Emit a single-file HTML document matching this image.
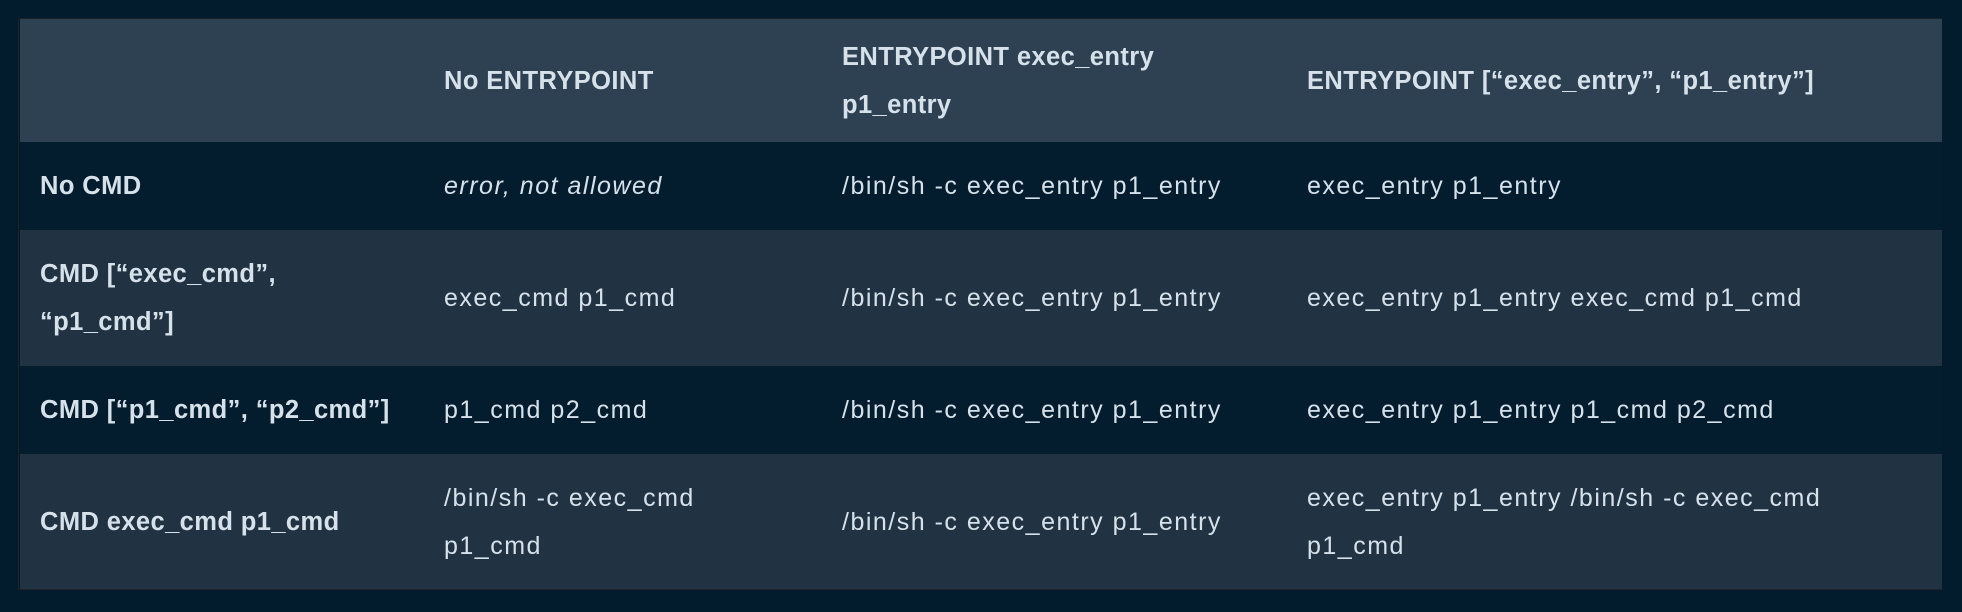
<!DOCTYPE html>
<html><head><meta charset="utf-8"><style>
html,body{margin:0;padding:0;width:1962px;height:612px;background:#031c2d;overflow:hidden}
#t{position:absolute;left:18px;top:18px;width:1924px;height:572px;border:1px solid #1c2226;box-sizing:border-box}
.r{position:absolute;left:1px;width:1922px}
.c{position:absolute;top:0;bottom:0;display:flex;align-items:center;color:#d6e1ea;font-family:"Liberation Sans",sans-serif;font-size:25px;letter-spacing:1.5px;line-height:48px}
.b{font-weight:bold;letter-spacing:0.4px;font-size:25.5px}
.c1{left:20px;width:380px}.c2{left:424px;width:380px}.c3{left:822px;width:430px}.c4{left:1287px;width:600px}
</style></head><body>
<div id="t">
<div class="r" style="top:0;height:123px;background:#2d4153">
<div class="c b c2">No ENTRYPOINT</div>
<div class="c b c3" style="width:340px">ENTRYPOINT exec_entry p1_entry</div>
<div class="c b c4">ENTRYPOINT [“exec_entry”, “p1_entry”]</div>
</div>
<div class="r" style="top:123px;height:88px;background:#031d2f">
<div class="c b c1">No CMD</div>
<div class="c c2"><i>error, not allowed</i></div>
<div class="c c3">/bin/sh -c exec_entry p1_entry</div>
<div class="c c4">exec_entry p1_entry</div>
</div>
<div class="r" style="top:211px;height:136px;background:#213342">
<div class="c b c1" style="width:260px">CMD [“exec_cmd”, “p1_cmd”]</div>
<div class="c c2">exec_cmd p1_cmd</div>
<div class="c c3">/bin/sh -c exec_entry p1_entry</div>
<div class="c c4">exec_entry p1_entry exec_cmd p1_cmd</div>
</div>
<div class="r" style="top:347px;height:88px;background:#031d2f">
<div class="c b c1">CMD [“p1_cmd”, “p2_cmd”]</div>
<div class="c c2">p1_cmd p2_cmd</div>
<div class="c c3">/bin/sh -c exec_entry p1_entry</div>
<div class="c c4">exec_entry p1_entry p1_cmd p2_cmd</div>
</div>
<div class="r" style="top:435px;height:135px;background:#213342">
<div class="c b c1">CMD exec_cmd p1_cmd</div>
<div class="c c2" style="width:280px">/bin/sh -c exec_cmd p1_cmd</div>
<div class="c c3">/bin/sh -c exec_entry p1_entry</div>
<div class="c c4" style="width:560px">exec_entry p1_entry /bin/sh -c exec_cmd p1_cmd</div>
</div>
</div>
</body></html>
